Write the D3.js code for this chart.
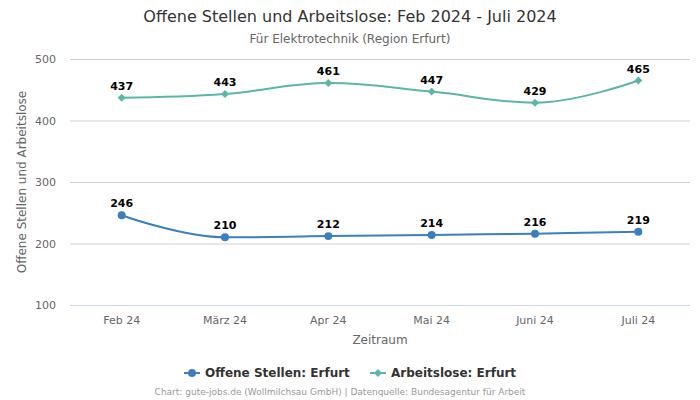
<!DOCTYPE html>
<html><head><meta charset="utf-8">
<script src="https://cdn.jsdelivr.net/npm/d3@7"></script>
<style>body{margin:0;background:#fff}svg{display:block;font-family:"DejaVu Sans",sans-serif}</style>
</head><body><svg id="c" width="700" height="400"></svg>
<script>
const categories = ["Feb 24","März 24","Apr 24","Mai 24","Juni 24","Juli 24"];
const offeneStellen = [246,210,212,214,216,219];
const arbeitslose = [437,443,461,447,429,465];
const yTicks = [100,200,300,400,500];
const seriesNames = ["Offene Stellen: Erfurt","Arbeitslose: Erfurt"];

const svg = d3.select("#c");
const L=70,R=690,T=59,B=305;
const x = d3.scaleBand().domain(categories).range([L,R]);
const y = d3.scaleLinear().domain([100,500]).range([B,T]);
const cx = c => x(c)+x.bandwidth()/2;

svg.append("text").attr("x",350).attr("y",22).attr("text-anchor","middle").attr("font-size",16).attr("fill","#333").text("Offene Stellen und Arbeitslose: Feb 2024 - Juli 2024");
svg.append("text").attr("x",350).attr("y",43).attr("text-anchor","middle").attr("font-size",12).attr("fill","#666").text("Für Elektrotechnik (Region Erfurt)");

const ya = svg.append("g").attr("transform",`translate(${L},0)`).call(d3.axisLeft(y).tickValues(yTicks).tickSize(-(R-L)).tickPadding(14));
ya.select(".domain").remove();
ya.selectAll(".tick line").attr("stroke","#d0d0d0");
ya.selectAll(".tick").filter(d=>d===100).select("line").attr("stroke","#ccd6eb");
ya.selectAll(".tick text").attr("font-size",11).attr("fill","#666").attr("font-family","DejaVu Sans");

const xa = svg.append("g").attr("transform",`translate(0,${B})`).call(d3.axisBottom(x).tickSize(0).tickPadding(11));
xa.select(".domain").remove();
xa.selectAll(".tick text").attr("font-size",11).attr("fill","#666").attr("font-family","DejaVu Sans");

svg.append("text").attr("transform",`translate(26,${(T+B)/2}) rotate(-90)`).attr("text-anchor","middle").attr("font-size",12).attr("fill","#666").text("Offene Stellen und Arbeitslose");
svg.append("text").attr("x",(L+R)/2).attr("y",344).attr("text-anchor","middle").attr("font-size",12).attr("fill","#666").text("Zeitraum");

function splinePath(pts){
  const sm=1.5, den=sm+1;
  let d=`M${pts[0][0]},${pts[0][1]}`;
  const ctrl=pts.map(()=>({}));
  for(let i=1;i<pts.length-1;i++){
    const [px,py]=pts[i],[lx,ly]=pts[i-1],[nx,ny]=pts[i+1];
    let lcx=(sm*px+lx)/den, lcy=(sm*py+ly)/den, rcx=(sm*px+nx)/den, rcy=(sm*py+ny)/den;
    if(rcx!==lcx){const corr=((rcy-lcy)*(rcx-px))/(rcx-lcx)+py-rcy; lcy+=corr; rcy+=corr;}
    if(lcy>ly&&lcy>py){lcy=Math.max(ly,py);rcy=2*py-lcy;} else if(lcy<ly&&lcy<py){lcy=Math.min(ly,py);rcy=2*py-lcy;}
    if(rcy>ny&&rcy>py){rcy=Math.max(ny,py);lcy=2*py-rcy;} else if(rcy<ny&&rcy<py){rcy=Math.min(ny,py);lcy=2*py-rcy;}
    ctrl[i]={lcx,lcy,rcx,rcy};
  }
  for(let i=1;i<pts.length;i++){
    const p=ctrl[i-1],c=ctrl[i];
    const a1=p.rcx??pts[i-1][0], a2=p.rcy??pts[i-1][1];
    const b1=c.lcx??pts[i][0], b2=c.lcy??pts[i][1];
    d+=`C${a1},${a2},${b1},${b2},${pts[i][0]},${pts[i][1]}`;
  }
  return d;
}

const series=[
  {vals:offeneStellen,color:"#3a7fc1",marker:"circle"},
  {vals:arbeitslose,color:"#5bb5a9",marker:"diamond"}
];
series.forEach(s=>{
  const pts=categories.map((c,i)=>[cx(c),y(s.vals[i])]);
  svg.append("path").attr("d",splinePath(pts)).attr("fill","none").attr("stroke",s.color).attr("stroke-width",2);
  const sym = s.marker==="circle"?d3.symbol(d3.symbolCircle,50):d3.symbol(d3.symbolDiamond2,40);
  svg.selectAll(null).data(pts).enter().append("path").attr("d",sym).attr("transform",p=>`translate(${p[0]},${p[1]})`).attr("fill",s.color);
  svg.selectAll(null).data(s.vals).enter().append("text").attr("x",(v,i)=>cx(categories[i])).attr("y",v=>y(v)-8)
    .attr("text-anchor","middle").attr("font-size",11).attr("font-weight","bold").attr("fill","#000")
    .attr("stroke","#fff").attr("stroke-width",2).attr("paint-order","stroke").attr("stroke-linejoin","round").text(v=>v);
});

const lg=svg.append("g");
const items=[{name:seriesNames[0],color:series[0].color,marker:"circle",x:184},{name:seriesNames[1],color:series[1].color,marker:"diamond",x:370}];
items.forEach(it=>{
  lg.append("line").attr("x1",it.x).attr("x2",it.x+16).attr("y1",373).attr("y2",373).attr("stroke",it.color).attr("stroke-width",2);
  const sym = it.marker==="circle"?d3.symbol(d3.symbolCircle,50):d3.symbol(d3.symbolDiamond2,40);
  lg.append("path").attr("d",sym).attr("transform",`translate(${it.x+8},373)`).attr("fill",it.color);
  lg.append("text").attr("x",it.x+21).attr("y",377).attr("font-size",12).attr("font-weight","bold").attr("fill","#333").text(it.name);
});
svg.append("text").attr("x",340).attr("y",395).attr("text-anchor","middle").attr("font-size",9).attr("fill","#999").text("Chart: gute-jobs.de (Wollmilchsau GmbH) | Datenquelle: Bundesagentur für Arbeit");
</script></body></html>
